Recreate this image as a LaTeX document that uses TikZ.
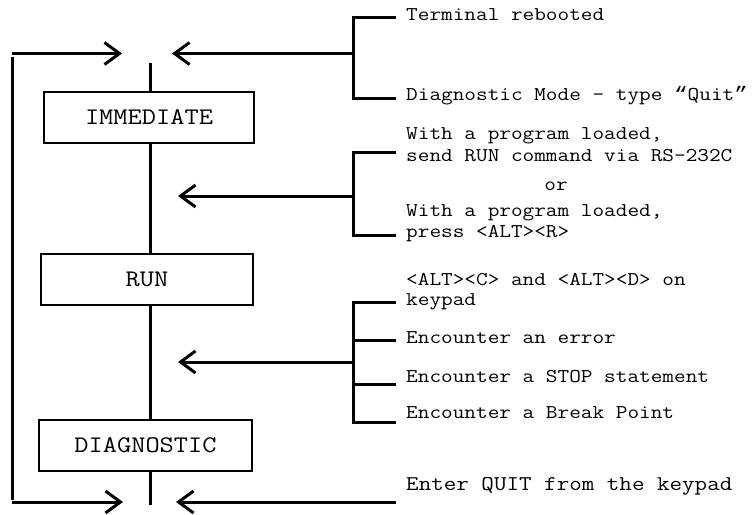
\documentclass[tikz,border=0pt]{standalone}
\usepackage{fontspec}
\usepackage{graphicx}
\usetikzlibrary{arrows.meta}
\newfontfamily\quotefont{Liberation Mono}
\newcommand{\widetxt}[1]{\scalebox{1.16}[1]{#1}}
\begin{document}
\begin{tikzpicture}[x=1pt,y=-1pt,
  conn/.style={line width=3pt},
  arr/.style={line width=3pt,-{Straight Barb[length=15pt,width=22pt,line width=3pt]}},
  tick/.style={line width=3pt},
  modebox/.style={draw,line width=2.2pt,inner sep=0pt,font=\ttfamily\fontsize{23.8}{26}\selectfont},
  lbl/.style={anchor=base west,inner sep=0pt,font=\ttfamily\fontsize{19.5}{22}\selectfont},
  lblbig/.style={anchor=base west,inner sep=0pt,font=\ttfamily\fontsize{21}{24}\selectfont}]
\useasboundingbox (0,0) rectangle (752,514);
% mode boxes
\node[modebox,minimum width=210pt,minimum height=51pt] (imm) at (149,117.5) {\widetxt{IMMEDIATE}};
\node[modebox,minimum width=212pt,minimum height=51pt] (run) at (147,279.5) {\widetxt{RUN}};
\node[modebox,minimum width=213pt,minimum height=51pt] (diag) at (145.5,445.5) {\widetxt{DIAGNOSTIC}};
% central line
\coordinate (ctop) at (150,63);
\coordinate (cbot) at (150,505);
\draw[conn] (ctop) -- (ctop |- imm.north);
\draw[conn] (150,0 |- imm.south) -- (150,0 |- run.north);
\draw[conn] (150,0 |- run.south) -- (150,0 |- diag.north);
\draw[conn] (150,0 |- diag.south) -- (cbot);
% left return loop
\coordinate (ltop) at (12,57);
\coordinate (lbot) at (12,500);
\coordinate (latop) at (12,53.5);
\coordinate (labot) at (12,502);
\coordinate (tipA) at (122,53.5);
\coordinate (tipB) at (123,502);
\draw[conn] (ltop) -- (lbot);
\draw[arr] (latop) -- (tipA);
\draw[arr] (labot) -- (tipB);
% texts
\node[lbl] (t1) at (406,20) {\widetxt{Terminal rebooted}};
\node[lbl] (t2) at (406,100) {\widetxt{Diagnostic Mode - type {\quotefont“}Quit{\quotefont”}}};
\node[lbl] (t3a) at (406,139) {\widetxt{With a program loaded,}};
\node[lbl] (t3b) at (406,161) {\widetxt{send RUN command via RS-232C}};
\node[lbl,anchor=base] (tor) at (556,190) {\widetxt{or}};
\node[lbl] (t4a) at (406,216) {\widetxt{With a program loaded,}};
\node[lbl] (t4b) at (406,237) {\widetxt{press <ALT><R>}};
\node[lbl] (t5a) at (406,285) {\widetxt{<ALT><C> and <ALT><D> on}};
\node[lbl] (t5b) at (406,305) {\widetxt{keypad}};
\node[lbl] (t6) at (406,343) {\widetxt{Encounter an error}};
\node[lbl] (t7) at (406,382) {\widetxt{Encounter a STOP statement}};
\node[lbl] (t8) at (406,418) {\widetxt{Encounter a Break Point}};
\node[lblbig] (t9) at (406,490) {\widetxt{Enter QUIT from the keypad}};
% bracket 1
\draw[tick] (396,17) -| (353,98) -- (396,98);
\coordinate (b1) at (353,53.5);
\coordinate (tip1) at (172,53.5);
\draw[arr] (b1) -- (tip1);
% bracket 2
\draw[tick] (396,152) -| (353,235) -- (396,235);
\coordinate (b2) at (353,196);
\coordinate (tip2) at (178,196);
\draw[arr] (b2) -- (tip2);
% bracket 3
\draw[tick] (396,302) -| (353,422) -- (396,422);
\draw[tick] (353,340) -- (396,340);
\draw[tick] (353,384) -- (396,384);
\coordinate (b3) at (353,362);
\coordinate (tip3) at (178,362);
\draw[arr] (b3) -- (tip3);
% bottom input
\coordinate (b4) at (396,502);
\coordinate (tip4) at (176,502);
\draw[arr] (b4) -- (tip4);
\end{tikzpicture}
\end{document}
